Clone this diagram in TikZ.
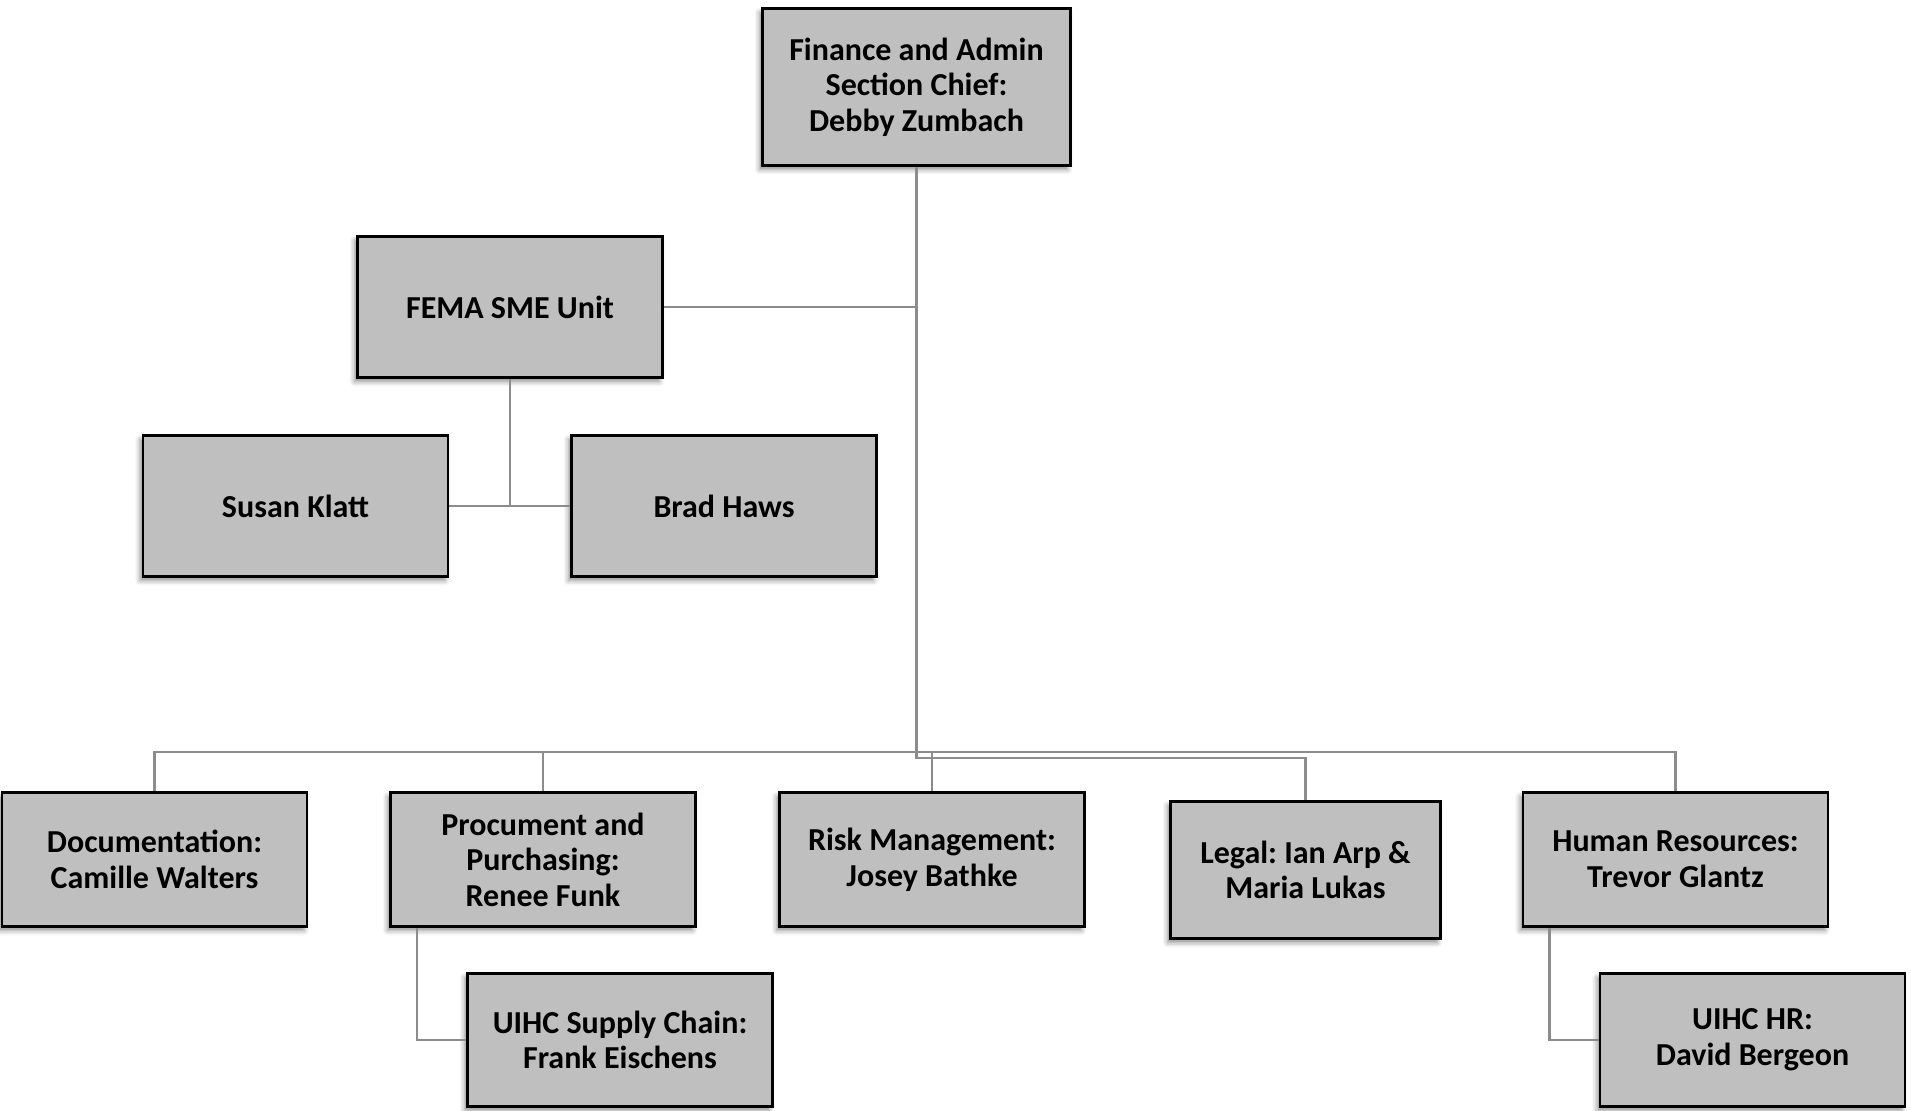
\documentclass[tikz,border=0pt]{standalone}
\usepackage{fontspec}
\setmainfont{Carlito}
\usetikzlibrary{shadows.blur}
\frenchspacing
\definecolor{boxgray}{HTML}{BFBFBF}
\definecolor{linkgray}{HTML}{8C8C8C}
\tikzset{
	unit/.style={draw=black, line width=1.4pt, fill=boxgray, align=center, inner sep=0pt,
		font=\fontsize{16}{17.8}\selectfont\bfseries,
		blur shadow={shadow xshift=-1.5pt, shadow yshift=-2pt, shadow blur radius=2.5pt, shadow opacity=45},
		minimum width=152.5pt, minimum height=67pt},
	link/.style={draw=linkgray, line width=1.2pt},
}
\begin{document}
\begin{tikzpicture}[x=0.5pt, y=-0.5pt]
	\useasboundingbox (0,0) rectangle (1911,1111);
				\node[unit, minimum width=154pt, minimum height=78.5pt](chief) at (916.5,87){Finance and Admin\\Section Chief:\\Debby Zumbach};
				\node[unit, minimum height=70.6pt](fema) at (510,307){FEMA SME Unit};
				\node[unit, minimum height=70.6pt](susan) at (295.5,506){Susan Klatt};
				\node[unit, minimum height=70.6pt](brad) at (724,506){Brad Haws};
				\node[unit](doc) at (154.5,859.5){Documentation:\\Camille Walters};
				\node[unit](proc) at (543,859.5){Procument and\\Purchasing:\\Renee Funk};
				\node[unit](risk) at (932,859.5){Risk Management:\\Josey Bathke};
				\node[unit, minimum width=135pt, minimum height=68.6pt](legal) at (1305.5,870){Legal: Ian Arp \&\\Maria Lukas};
				\node[unit](hr) at (1675.5,859.5){Human Resources:\\Trevor Glantz};
				\node[unit, minimum height=66.6pt](supply) at (620,1040){UIHC Supply Chain:\\Frank Eischens};
				\node[unit, minimum height=66.6pt](uihchr) at (1752.5,1040){UIHC HR:\\David Bergeon};
				\coordinate(bus) at (916.5,752);
				\coordinate(legbus) at (916.5,758);
					\draw[link](chief.south) to (legbus) -| (legal.north);
					\draw[link](fema.east) to (fema.east -| chief.south);
					\draw[link](fema.south) |- (susan.east);
					\draw[link](fema.south) |- (brad.west);
					\draw[link](doc.north) |- (bus) -| (hr.north);
					\draw[link](proc.north) to (proc.north |- bus);
					\draw[link](risk.north) to (risk.north |- bus);
					\draw[link]([xshift=14pt]proc.south west) |- (supply.west);
					\draw[link]([xshift=14pt]hr.south west) |- (uihchr.west);
\end{tikzpicture}
\end{document}
